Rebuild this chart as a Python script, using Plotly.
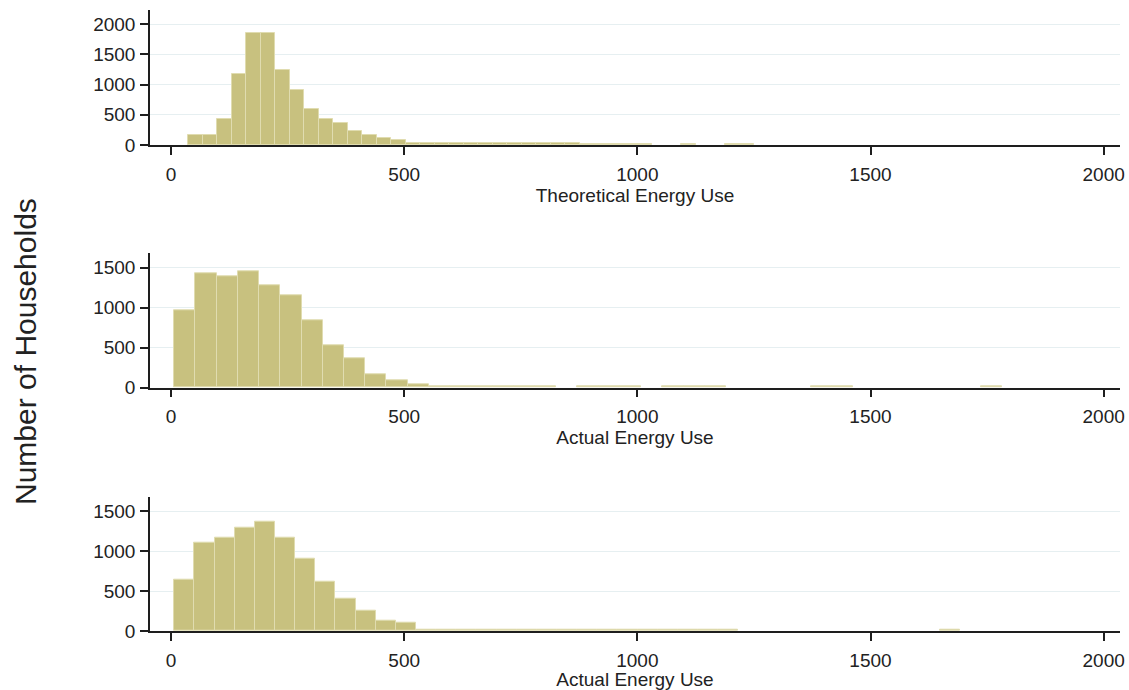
import plotly.graph_objects as go
import numpy as np

# ---- data (histogram bin counts) ----
# Panel 1: Theoretical Energy Use
theo_bin_start = 37.0
theo_bin_width = 31.1
theo_counts = [171, 171, 430, 1176, 1850, 1850, 1237, 917, 596, 430,
               364, 237, 171, 110, 77, 40, 35, 32, 30, 30,
               28, 28, 27, 26, 26, 25, 25, 24, 24, 23,
               23, 22, 0, 0, 20, 0, 0, 20, 20]

# Panel 2: Actual Energy Use
act1_bin_start = 7.0
act1_bin_width = 45.5
act1_counts = [970, 1430, 1395, 1450, 1275, 1155, 840, 530, 365, 165,
               94, 38, 22, 22, 22, 22, 22, 22, 0, 22,
               22, 22, 0, 22, 22, 22, 0, 0, 0, 0,
               22, 22, 0, 0, 0, 0, 0, 0, 22]

# Panel 3: Actual Energy Use
act2_bin_start = 7.0
act2_bin_width = 43.2
act2_counts = [640, 1100, 1165, 1290, 1370, 1165, 900, 620, 405, 255,
               135, 110, 20, 20, 20, 20, 20, 20, 20, 20,
               20, 20, 20, 20, 20, 20, 20, 20, 0, 0,
               0, 0, 0, 0, 0, 0, 0, 0, 20]

x_ticks = [0, 500, 1000, 1500, 2000]
y_ticks_1 = [0, 500, 1000, 1500, 2000]
y_ticks_23 = [0, 500, 1000, 1500]
x_titles = ["Theoretical Energy Use", "Actual Energy Use", "Actual Energy Use"]
y_title = "Number of Households"

# ---- styling ----
W, H = 1129, 690
FONT = "Liberation Sans, Arial, sans-serif"
BAR_FILL = "rgb(200,193,127)"
BAR_LINE = "rgb(224,220,176)"
GRID = "#e6eff1"
AXIS = "#1e1e1e"

panels = [
    (theo_bin_start, theo_bin_width, theo_counts, y_ticks_1, [0, 2235], (10, 145)),
    (act1_bin_start, act1_bin_width, act1_counts, y_ticks_23, [0, 1680], (253.3, 387.7)),
    (act2_bin_start, act2_bin_width, act2_counts, y_ticks_23, [0, 1680], (496.7, 631)),
]

fig = go.Figure()
x_dom = [150 / W, 1120 / W]

for i, (start, width, counts, yt, yr, (top, bot)) in enumerate(panels, start=1):
    n = len(counts)
    centers = start + width * (np.arange(n) + 0.5)
    yvals = [c if c > 0 else None for c in counts]
    sfx = "" if i == 1 else str(i)
    fig.add_trace(go.Bar(
        x=centers, y=yvals, width=width,
        marker=dict(color=BAR_FILL, line=dict(color=BAR_LINE, width=1)),
        xaxis="x" + sfx, yaxis="y" + sfx, showlegend=False, hoverinfo="skip",
    ))
    fig.update_layout(**{
        "xaxis" + sfx: dict(
            domain=x_dom, anchor="y" + sfx, range=[-45, 2035], automargin=False,
            tickvals=x_ticks, ticks="outside", ticklen=8, tickwidth=1.5,
            tickcolor=AXIS, showline=True, linewidth=1.5, linecolor=AXIS,
            showgrid=False, zeroline=False, ticklabelstandoff=3,
            tickfont=dict(family=FONT, size=19, color="#222"),
            title=dict(text=x_titles[i - 1], standoff=0,
                       font=dict(family=FONT, size=19, color="#222")),
        ),
        "yaxis" + sfx: dict(
            domain=[1 - bot / H, 1 - top / H], anchor="x" + sfx, range=yr,
            automargin=False,
            tickvals=yt, ticks="outside", ticklen=8, tickwidth=1.5,
            tickcolor=AXIS, showline=True, linewidth=1.5, linecolor=AXIS,
            showgrid=True, gridcolor=GRID, gridwidth=1, zeroline=False,
            ticklabelstandoff=1,
            tickfont=dict(family=FONT, size=19, color="#222"),
        ),
    })

fig.add_annotation(
    text=y_title, textangle=-90, xref="paper", yref="paper",
    x=25 / W, y=1 - 352 / H, showarrow=False, xanchor="center", yanchor="middle",
    font=dict(family=FONT, size=30, color="#222"),
)

fig.update_layout(
    width=W, height=H, margin=dict(l=0, r=0, t=0, b=0),
    paper_bgcolor="white", plot_bgcolor="white", bargap=0,
)

fig.write_html("out.html")
